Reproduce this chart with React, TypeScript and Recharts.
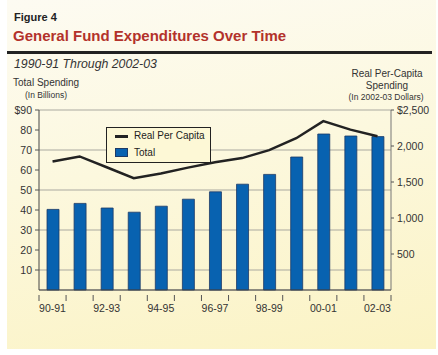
import React from "react";
import { ComposedChart, Bar, Line, XAxis, YAxis, CartesianGrid, Legend } from "recharts";

const years = ["90-91","91-92","92-93","93-94","94-95","95-96","96-97","97-98","98-99","99-00","00-01","01-02","02-03"];
const totalSpending = [40.3, 43.3, 41.0, 38.9, 41.9, 45.4, 49.1, 52.9, 57.8, 66.5, 78.0, 77.0, 76.7];
const realPerCapita = [1786, 1855, 1705, 1552, 1617, 1700, 1773, 1832, 1943, 2108, 2345, 2227, 2135];
const leftTicks = [10, 20, 30, 40, 50, 60, 70, 80, 90];
const rightTicks = [500, 1000, 1500, 2000, 2500];

const data = years.map((y, i) => ({ year: y, total: totalSpending[i], perCapita: realPerCapita[i] }));

const FONT = "'Liberation Sans', Arial, sans-serif";
const TXT = "#333";

const XTick = (props: any) => {
  const { x, y, payload, index } = props;
  const off = payload && payload.offset ? payload.offset : 13.5;
  const last = index === years.length - 1;
  return (
    <g>
      <line x1={x - off} x2={x - off} y1={y - 3} y2={y + 3} stroke="#555" strokeWidth={1} />
      {last && <line x1={x + off} x2={x + off} y1={y - 3} y2={y + 3} stroke="#555" strokeWidth={1} />}
      {index % 2 === 0 && (
        <text x={x} y={y + 14} textAnchor="middle" fontSize={10.5} fill={TXT} fontFamily={FONT}>
          {payload.value}
        </text>
      )}
    </g>
  );
};

const LegendContent = () => (
  <div
    style={{
      border: "1px solid #222",
      width: 105,
      height: 36,
      boxSizing: "border-box",
      fontFamily: FONT,
      fontSize: 10,
      color: "#222",
      position: "relative",
      background: "#fdf8d6",
      whiteSpace: "nowrap",
      textAlign: "left",
    }}
  >
    <div style={{ position: "absolute", left: 8, top: 7, width: 13, height: 2.5, background: "#222" }} />
    <div style={{ position: "absolute", left: 27, top: 2, lineHeight: "12px" }}>Real Per Capita</div>
    <div style={{ position: "absolute", left: 8, top: 20, width: 13, height: 9, background: "#0862b0", border: "1px solid #1d3a66", boxSizing: "border-box" }} />
    <div style={{ position: "absolute", left: 27, top: 19, lineHeight: "12px" }}>Total</div>
  </div>
);

export default function App() {
  return (
    <div style={{ position: "relative", width: 438, height: 355, background: "#fff", fontFamily: FONT }}>
      <style>{`body{margin:0}`}</style>
      <div
        style={{
          position: "absolute",
          left: 7,
          top: 0,
          width: 429,
          height: 349,
          background: "linear-gradient(170deg, #fdfbf2 0%, #fcf8de 45%, #fbf3c4 100%)",
        }}
      />
      <div style={{ position: "absolute", left: 14, top: 11, fontSize: 11, fontWeight: "bold", color: "#222" }}>Figure 4</div>
      <div style={{ position: "absolute", left: 13, top: 27, fontSize: 15, fontWeight: "bold", color: "#b3322b" }}>
        General Fund Expenditures Over Time
      </div>
      <div style={{ position: "absolute", left: 7, top: 51, width: 425, height: 3, background: "#222" }} />
      <div style={{ position: "absolute", left: 14, top: 57, fontSize: 12.3, fontStyle: "italic", color: "#333" }}>1990-91 Through 2002-03</div>
      <div style={{ position: "absolute", left: 13, top: 77, fontSize: 10, color: TXT }}>Total Spending</div>
      <div style={{ position: "absolute", left: 25, top: 90, fontSize: 8.5, color: TXT }}>(In Billions)</div>
      <div style={{ position: "absolute", left: 337, width: 100, textAlign: "center", top: 68, fontSize: 10, color: TXT, lineHeight: "12px" }}>
        Real Per-Capita
        <br />
        Spending
      </div>
      <div style={{ position: "absolute", left: 336, width: 100, textAlign: "center", top: 92, fontSize: 8.5, color: TXT }}>(In 2002-03 Dollars)</div>

      <div style={{ position: "absolute", left: 0, top: 0 }}>
        <ComposedChart width={438} height={355} data={data} margin={{ top: 110, right: 0, bottom: 9, left: 0 }} barCategoryGap={0}>
          <CartesianGrid vertical={false} yAxisId="left" stroke="#aaa9a0" strokeWidth={1} />
          <XAxis
            dataKey="year"
            interval={0}
            tickLine={false}
            axisLine={{ stroke: "#444" }}
            tick={<XTick />}
            height={20}
          />
          <YAxis
            yAxisId="left"
            domain={[0, 90]}
            ticks={leftTicks}
            width={39}
            axisLine={{ stroke: "#444" }}
            tickLine={{ stroke: "#555" }}
            tickSize={4}
            tickMargin={3}
            tickFormatter={(v: number) => (v === 90 ? "$90" : String(v))}
            tick={{ fontSize: 10.5, fill: TXT, fontFamily: FONT }}
          />
          <YAxis
            yAxisId="right"
            orientation="right"
            domain={[0, 2500]}
            ticks={rightTicks}
            width={47}
            axisLine={{ stroke: "#777" }}
            tickLine={{ stroke: "#555" }}
            tickSize={3}
            tickMargin={3}
            tickFormatter={(v: number) => (v === 2500 ? "$2,500" : v.toLocaleString("en-US"))}
            tick={{ fontSize: 10.5, fill: TXT, fontFamily: FONT }}
          />
          <Legend
            content={<LegendContent />}
            wrapperStyle={{ position: "absolute", left: 106, top: 127, width: 105, height: 36 }}
          />
          <Bar
            yAxisId="left"
            dataKey="total"
            name="Total"
            barSize={12}
            fill="#0862b0"
            stroke="#1d3a66"
            strokeWidth={0.8}
            isAnimationActive={false}
          />
          <Line
            yAxisId="right"
            dataKey="perCapita"
            name="Real Per Capita"
            type="linear"
            stroke="#222"
            strokeWidth={2.5}
            dot={false}
            isAnimationActive={false}
          />
        </ComposedChart>
      </div>
    </div>
  );
}
